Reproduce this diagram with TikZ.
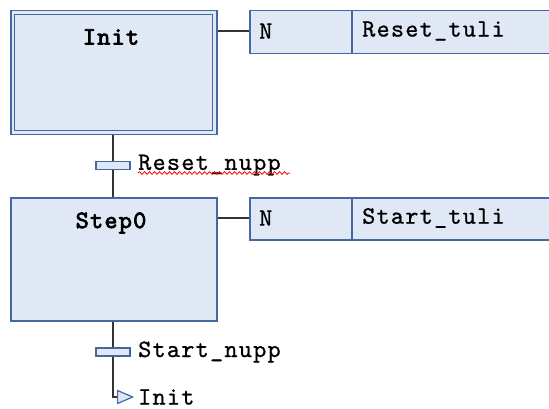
\documentclass[tikz,border=0pt]{standalone}
\usepackage{fontspec}
\newfontfamily\courf[LetterSpace=5,FakeBold=0.8]{lmmono10-regular.otf}
\newfontfamily\courbf[LetterSpace=5,FakeBold=3]{lmmono10-regular.otf}
\usetikzlibrary{decorations.pathmorphing,shapes.geometric}
\definecolor{bord}{RGB}{70,104,160}
\definecolor{fillb}{RGB}{224,232,246}
\tikzset{
  box/.style={draw=bord, fill=fillb, line width=1.5pt, inner sep=0pt, anchor=north west},
  lbl/.style={font=\courf\fontsize{25}{25}\selectfont, inner sep=0pt, anchor=west, text=black},
  ttl/.style={font=\courbf\fontsize{25}{25}\selectfont, inner sep=0pt, text=black},
  wire/.style={line width=1.5pt, draw=black!80},
  bar/.style={draw=bord, fill=fillb, line width=1.3pt, inner sep=0pt, minimum width=34pt, minimum height=8pt},
}
\begin{document}
\begin{tikzpicture}[x=1pt,y=-1pt]
\useasboundingbox (0,0) rectangle (549,409);
% Init step (double border)
\node[box, minimum width=206pt, minimum height=124pt] (init) at (10,10) {};
\node[draw=bord, line width=1.3pt, inner sep=0pt, anchor=north west, minimum width=198pt, minimum height=116pt] (initin) at (14,14) {};
\node[ttl] (initt) at (111,37) {Init};
% action 1
\node[box, minimum width=102pt, minimum height=43pt] (a1n) at (249,10) {};
\node[box, minimum width=210pt, minimum height=43pt] (a1v) at (351,10) {};
\node[lbl] (a1nt) at (259,31) {N};
\node[lbl] (a1vt) at (362,31) {Reset\_tuli};
\draw[wire] (init.east |- 0,31) -- (a1n.west |- 0,31);
% transition 1
\node[bar] (t1) at (113,165.5) {};
\node[lbl] (t1t) at (138,165) {Reset\_nupp};
\draw[red, line width=0.8pt, decorate, decoration={snake, amplitude=1.3pt, segment length=5pt}] (138,173) coordinate (sq1) -- (290,173) coordinate (sq2);
% Step0
\node[box, minimum width=206pt, minimum height=123pt] (step0) at (10,197) {};
\node[ttl] (step0t) at (111,223) {Step0};
\draw[wire] (init.south -| 113,0) -- (t1);
\draw[wire] (t1) -- (step0.north -| 113,0);
% action 2
\node[box, minimum width=102pt, minimum height=42pt] (a2n) at (249,197) {};
\node[box, minimum width=210pt, minimum height=42pt] (a2v) at (351,197) {};
\node[lbl] (a2nt) at (259,218) {N};
\node[lbl] (a2vt) at (362,218) {Start\_tuli};
\draw[wire] (step0.east |- 0,218) -- (a2n.west |- 0,218);
% transition 2
\node[bar] (t2) at (113,352) {};
\node[lbl] (t2t) at (138,352) {Start\_nupp};
% jump
\node[draw=bord, fill=fillb, line width=1.2pt, isosceles triangle, isosceles triangle apex angle=70, isosceles triangle stretches, inner sep=0pt, minimum height=15pt, minimum width=13pt, anchor=west] (jmp) at (117,397) {};
\node[lbl] (jt) at (138,397) {Init};
\draw[wire] (step0.south -| 113,0) -- (t2);
\draw[wire] (t2) -- (113,397) -- (jmp.west);
\end{tikzpicture}
\end{document}
